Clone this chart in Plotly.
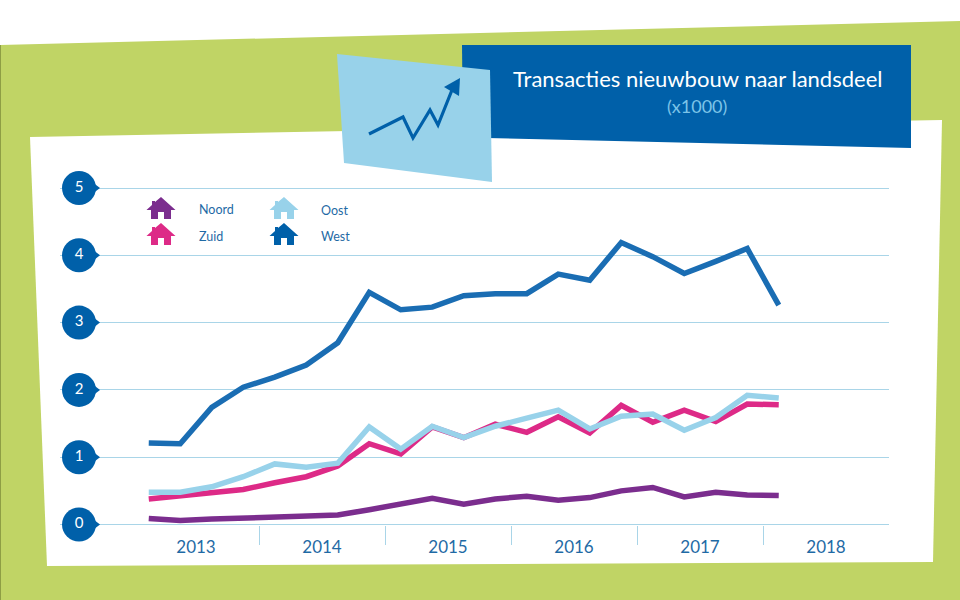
import plotly.graph_objects as go

quarters = [2013.125, 2013.375, 2013.625, 2013.875, 2014.125, 2014.375, 2014.625, 2014.875,
            2015.125, 2015.375, 2015.625, 2015.875, 2016.125, 2016.375, 2016.625, 2016.875,
            2017.125, 2017.375, 2017.625, 2017.875, 2018.125]
noord = [.09, .06, .08, .09, .11, .11, .14, .22, .30, .39, .30, .38, .42, .36, .40, .50, .55, .41, .48, .44, .43]
zuid = [.38, .43, .49, .52, .62, .71, .87, 1.20, 1.05, 1.45, 1.29, 1.49, 1.37, 1.60, 1.36, 1.77, 1.52, 1.70, 1.53, 1.79, 1.78]
oost = [.48, .48, .56, .71, .90, .85, .91, 1.45, 1.12, 1.46, 1.29, 1.46, 1.58, 1.70, 1.42, 1.61, 1.64, 1.40, 1.59, 1.92, 1.88]
west = [1.21, 1.20, 1.74, 2.04, 2.19, 2.37, 2.70, 3.45, 3.19, 3.23, 3.40, 3.43, 3.43, 3.72, 3.63, 4.19, 3.98, 3.73, 3.91, 4.10, 3.26]
year_labels = ["2013", "2014", "2015", "2016", "2017", "2018"]
year_centers = [2013.5, 2014.5, 2015.5, 2016.5, 2017.5, 2018.5]
year_breaks = [2014, 2015, 2016, 2017, 2018]
y_ticks = [0, 1, 2, 3, 4, 5]

GREEN = "#C0D465"
BLUE = "#0060A9"
LINE_BLUE = "#1A6DB3"
LIGHT = "#98D2EA"
PURPLE = "#7B2D8E"
PINK = "#DD2A87"
TEXT = "#1F6AA5"
GRID = "#A9D5E8"
FONT = "Lato"
W, H = 960, 600
X0_PX, Y0_PX = 133.0, 524.5        # pixel of the data origin (2013, 0)
PX_PER_YEAR, PX_PER_UNIT = 126.0, 67.3
LEFT_PX, RIGHT_PX = 60.0, 889.0
TOP_PX, BOTTOM_PX = 168.0, 545.0


def px(x):
    return x / W


def py(y):
    return 1 - y / H


def poly(points, color, layer="below"):
    d = "M " + " L ".join(f"{px(x):.5f},{py(y):.5f}" for x, y in points) + " Z"
    return dict(type="path", xref="paper", yref="paper", path=d, fillcolor=color,
                line=dict(width=0), layer=layer)


def house(cx, cy, color):
    pts = [(cx - 14.5, cy + 1), (cx - 9, cy - 4), (cx - 9, cy - 8), (cx - 6, cy - 8), (cx - 6, cy - 7),
           (cx, cy - 12), (cx + 14.5, cy + 1), (cx + 10, cy + 1), (cx + 10, cy + 10), (cx + 3, cy + 10),
           (cx + 3, cy + 3), (cx - 3, cy + 3), (cx - 3, cy + 10), (cx - 10, cy + 10), (cx - 10, cy + 1)]
    return poly(pts, color, "above")


shapes = [
    poly([(0, 45), (480, 33), (960, 21), (960, 600), (0, 600)], GREEN),
    poly([(0, 45), (1, 45), (1, 600), (0, 600)], "#8E9E45"),
    poly([(30, 137), (942, 120), (933, 562), (47, 566)], "#FFFFFF"),
    poly([(462, 45), (911, 45), (911, 148), (463, 137.5)], BLUE),
    poly([(337, 54), (490, 70), (492, 182), (344, 163)], LIGHT),
    dict(type="path", xref="paper", yref="paper", layer="below",
         path="M " + " L ".join(f"{px(x):.5f},{py(y):.5f}" for x, y in
                                [(369, 134), (403, 117), (413, 138), (430, 110), (438, 125), (452, 90)]),
         line=dict(color=BLUE, width=3.2), fillcolor="rgba(0,0,0,0)"),
    poly([(444, 87), (460, 78), (459, 96)], BLUE),
    house(161, 209, PURPLE),
    house(161, 235, PINK),
    house(284, 209, LIGHT),
    house(284, 235, BLUE),
]

fig = go.Figure()
for name, vals, col in [("Noord", noord, PURPLE), ("West", west, LINE_BLUE), ("Zuid", zuid, PINK), ("Oost", oost, LIGHT)]:
    fig.add_trace(go.Scatter(x=quarters, y=vals, name=name, mode="lines",
                             line=dict(color=col, width=5.5), showlegend=False))

# y-axis bubbles: the pointed tip, then the disc with its number
tip_x = 2013 + (93 - X0_PX) / PX_PER_YEAR
disc_x = 2013 + (79 - X0_PX) / PX_PER_YEAR
fig.add_trace(go.Scatter(x=[tip_x] * len(y_ticks), y=y_ticks, mode="markers",
                         marker=dict(symbol="triangle-right", size=14, color=BLUE, line=dict(width=0)),
                         showlegend=False, hoverinfo="skip"))
fig.add_trace(go.Scatter(x=[disc_x] * len(y_ticks), y=y_ticks, mode="markers+text",
                         text=[str(v) for v in y_ticks], textposition="middle center",
                         textfont=dict(color="#FFFFFF", size=15, family=FONT),
                         marker=dict(size=34, color=BLUE, line=dict(width=0)),
                         showlegend=False, hoverinfo="skip"))

annotations = [
    dict(x=px(697), y=py(79), text="Transacties nieuwbouw naar landsdeel",
         font=dict(color="#FFFFFF", size=22, family=FONT)),
    dict(x=px(697), y=py(106), text="(x1000)", font=dict(color="#7CC4E8", size=18, family=FONT)),
]
for name, x, y in [("Noord", 197.5, 209), ("Zuid", 197.5, 236), ("Oost", 320, 210), ("West", 320, 236)]:
    annotations.append(dict(x=px(x), y=py(y), text=name, xanchor="left",
                            font=dict(color=TEXT, size=12.5, family=FONT)))
for a in annotations:
    a.update(xref="paper", yref="paper", showarrow=False, yanchor="middle")
    a.setdefault("xanchor", "center")
    a["borderpad"] = 0

fig.update_layout(
    width=W, height=H, autosize=False,
    margin=dict(l=0, r=0, t=0, b=0),
    paper_bgcolor="#FFFFFF", plot_bgcolor="rgba(0,0,0,0)",
    shapes=shapes, annotations=annotations, showlegend=False,
    font=dict(family=FONT, color=TEXT),
    xaxis=dict(domain=[px(LEFT_PX), px(RIGHT_PX)],
               range=[2013 + (LEFT_PX - X0_PX) / PX_PER_YEAR, 2013 + (RIGHT_PX - X0_PX) / PX_PER_YEAR],
               anchor="free", position=py(Y0_PX),
               tickmode="array", tickvals=year_centers, ticktext=year_labels, ticks="", showgrid=False,
               tickfont=dict(size=17, color=TEXT, family=FONT), zeroline=False,
               showline=False, ticklabelstandoff=10,
               minor=dict(tickmode="array", tickvals=year_breaks, ticks="outside", ticklen=19,
                          tickcolor=GRID, tickwidth=1, showgrid=False)),
    yaxis=dict(domain=[py(BOTTOM_PX), py(TOP_PX)],
               range=[(Y0_PX - BOTTOM_PX) / PX_PER_UNIT, (Y0_PX - TOP_PX) / PX_PER_UNIT],
               tickmode="array", tickvals=y_ticks,
               showticklabels=False, ticks="", gridcolor=GRID, gridwidth=1, zeroline=False,
               showline=False),
)
fig.write_html("out.html", config={"displayModeBar": False},
               post_script="document.body.style.margin='0';document.body.style.overflow='hidden';")
